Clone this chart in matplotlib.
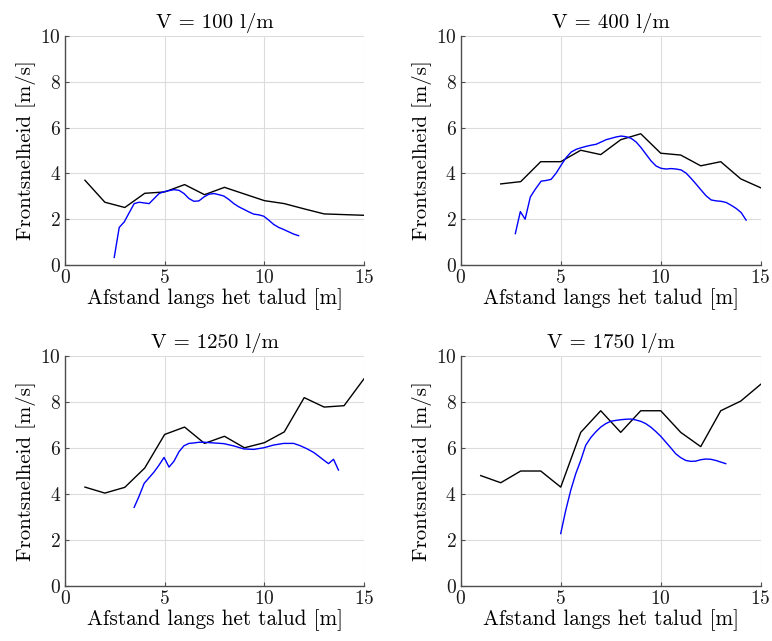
"""Frontsnelheid langs het talud voor vier overslagvolumes."""

import matplotlib

matplotlib.use("Agg")
import matplotlib.pyplot as plt

plt.rcParams["font.family"] = "serif"
plt.rcParams["font.serif"] = ["cmr10"]
plt.rcParams["mathtext.fontset"] = "cm"
plt.rcParams["axes.unicode_minus"] = False
plt.rcParams["axes.formatter.use_mathtext"] = True

titles = ["V = 100 l/m", "V = 400 l/m", "V = 1250 l/m", "V = 1750 l/m"]

# gemeten (zwart), per meter
x_100 = [1, 2, 3, 4, 5, 6, 7, 8, 9, 10, 11, 12, 13, 14, 15]
y_100 = [3.70, 2.74, 2.51, 3.13, 3.19, 3.51, 3.07, 3.39, 3.10, 2.81, 2.68, 2.45, 2.23, 2.20, 2.17]
x_400 = [2, 3, 4, 5, 6, 7, 8, 9, 10, 11, 12, 13, 14, 15]
y_400 = [3.54, 3.64, 4.51, 4.51, 5.01, 4.82, 5.47, 5.73, 4.88, 4.80, 4.33, 4.51, 3.76, 3.37]
x_1250 = [1, 2, 3, 4, 5, 6, 7, 8, 9, 10, 11, 12, 13, 14, 15]
y_1250 = [4.30, 4.04, 4.29, 5.13, 6.59, 6.91, 6.20, 6.51, 6.01, 6.23, 6.70, 8.19, 7.78, 7.84, 9.01]
x_1750 = [1, 2, 3, 4, 5, 6, 7, 8, 9, 10, 11, 12, 13, 14, 15]
y_1750 = [4.80, 4.49, 5.00, 5.00, 4.30, 6.68, 7.62, 6.68, 7.62, 7.62, 6.68, 6.06, 7.62, 8.04, 8.77]

# model (blauw)
xm_100 = [2.47, 2.72, 2.97, 3.22, 3.47, 3.72, 4.22, 4.47, 4.72, 4.97, 5.47, 5.72,
          5.97, 6.22, 6.47, 6.72, 6.97, 7.22, 7.47, 7.72, 7.97, 8.22, 8.47, 8.72,
          8.97, 9.22, 9.47, 9.72, 9.97, 10.22, 10.47, 10.72, 10.97, 11.22, 11.47, 11.72]
ym_100 = [0.33, 1.64, 1.88, 2.28, 2.68, 2.74, 2.68, 2.90, 3.12, 3.20, 3.29, 3.26,
          3.12, 2.90, 2.78, 2.80, 2.97, 3.09, 3.12, 3.07, 3.01, 2.86, 2.68, 2.54,
          2.43, 2.32, 2.22, 2.19, 2.13, 1.96, 1.77, 1.64, 1.55, 1.45, 1.35, 1.28]
xm_400 = [2.73, 2.98, 3.22, 3.48, 3.73, 4.02, 4.27, 4.52, 4.77, 5.02, 5.27, 5.52,
          5.77, 6.02, 6.27, 6.52, 6.77, 7.02, 7.27, 7.52, 7.77, 8.02, 8.27, 8.52,
          8.77, 9.02, 9.27, 9.52, 9.77, 10.02, 10.27, 10.52, 10.77, 11.02, 11.27,
          11.52, 11.77, 12.02, 12.27, 12.52, 12.77, 13.02, 13.27, 13.52, 13.77,
          14.02, 14.27]
ym_400 = [1.37, 2.33, 2.00, 2.97, 3.31, 3.66, 3.69, 3.74, 4.01, 4.36, 4.69, 4.93,
          5.05, 5.12, 5.18, 5.23, 5.27, 5.37, 5.47, 5.53, 5.59, 5.63, 5.60, 5.53,
          5.37, 5.12, 4.83, 4.54, 4.32, 4.22, 4.19, 4.21, 4.19, 4.15, 4.01,
          3.78, 3.53, 3.27, 3.02, 2.84, 2.80, 2.78, 2.73, 2.61, 2.47,
          2.29, 1.96]
xm_1250 = [3.47, 3.72, 3.97, 4.22, 4.47, 4.72, 4.97, 5.22, 5.47, 5.72, 5.97, 6.22,
           6.47, 6.72, 6.97, 7.47, 7.97, 8.47, 8.97, 9.47, 9.97, 10.47, 10.97,
           11.47, 11.80, 12.13, 12.47, 12.72, 12.97, 13.22, 13.47, 13.72]
ym_1250 = [3.42, 3.91, 4.46, 4.71, 4.96, 5.26, 5.59, 5.17, 5.43, 5.84, 6.10, 6.20,
           6.22, 6.25, 6.25, 6.22, 6.19, 6.09, 5.96, 5.94, 6.01, 6.13, 6.20,
           6.20, 6.10, 5.97, 5.81, 5.65, 5.48, 5.32, 5.51, 5.04]
xm_1750 = [5.00, 5.25, 5.50, 5.75, 6.00, 6.25, 6.50, 6.75, 7.00, 7.25, 7.50, 7.75,
           8.00, 8.25, 8.50, 8.75, 9.00, 9.25, 9.50, 9.75, 10.00, 10.25, 10.50,
           10.75, 11.00, 11.25, 11.50, 11.75, 12.00, 12.25, 12.50, 12.75, 13.00, 13.25]
ym_1750 = [2.28, 3.29, 4.16, 4.88, 5.46, 6.12, 6.45, 6.70, 6.91, 7.06, 7.16, 7.20,
           7.23, 7.25, 7.26, 7.22, 7.16, 7.06, 6.91, 6.72, 6.51, 6.26, 6.01,
           5.75, 5.58, 5.46, 5.42, 5.43, 5.49, 5.52, 5.51, 5.46, 5.39, 5.32]

measured = [(x_100, y_100), (x_400, y_400), (x_1250, y_1250), (x_1750, y_1750)]
modelled = [(xm_100, ym_100), (xm_400, ym_400), (xm_1250, ym_1250), (xm_1750, ym_1750)]

positions = [
    [0.0842, 0.5866, 0.3873, 0.3573],
    [0.5968, 0.5866, 0.3886, 0.3573],
    [0.0842, 0.0858, 0.3873, 0.3588],
    [0.5968, 0.0858, 0.3886, 0.3588],
]

fig = plt.figure(figsize=(7.72, 6.41), dpi=100)

for pos, title, (xb, yb), (xm, ym) in zip(positions, titles, measured, modelled):
    ax = fig.add_axes(pos)
    ax.plot(xb, yb, color="black", linewidth=1.0)
    ax.plot(xm, ym, color="blue", linewidth=1.0)
    ax.set_xlim(0, 15)
    ax.set_ylim(0, 10)
    ax.set_xticks([0, 5, 10, 15])
    ax.set_yticks([0, 2, 4, 6, 8, 10])
    ax.grid(True, color="#dcdcdc", linewidth=0.8)
    ax.set_axisbelow(True)
    for side in ["top", "right"]:
        ax.spines[side].set_visible(False)
    for side in ["left", "bottom"]:
        ax.spines[side].set_color("#4d4d4d")
        ax.spines[side].set_linewidth(1.0)
    ax.tick_params(direction="in", length=3, labelsize=14, colors="#4d4d4d",
                   labelcolor="#1a1a1a", pad=3)
    ax.set_title(title, fontsize=15, pad=6)
    ax.set_xlabel("Afstand langs het talud [m]", fontsize=15.3, labelpad=1)
    ax.set_ylabel("Frontsnelheid [m/s]", fontsize=15, labelpad=3)

fig.savefig("out.png", dpi=100)
plt.close(fig)
